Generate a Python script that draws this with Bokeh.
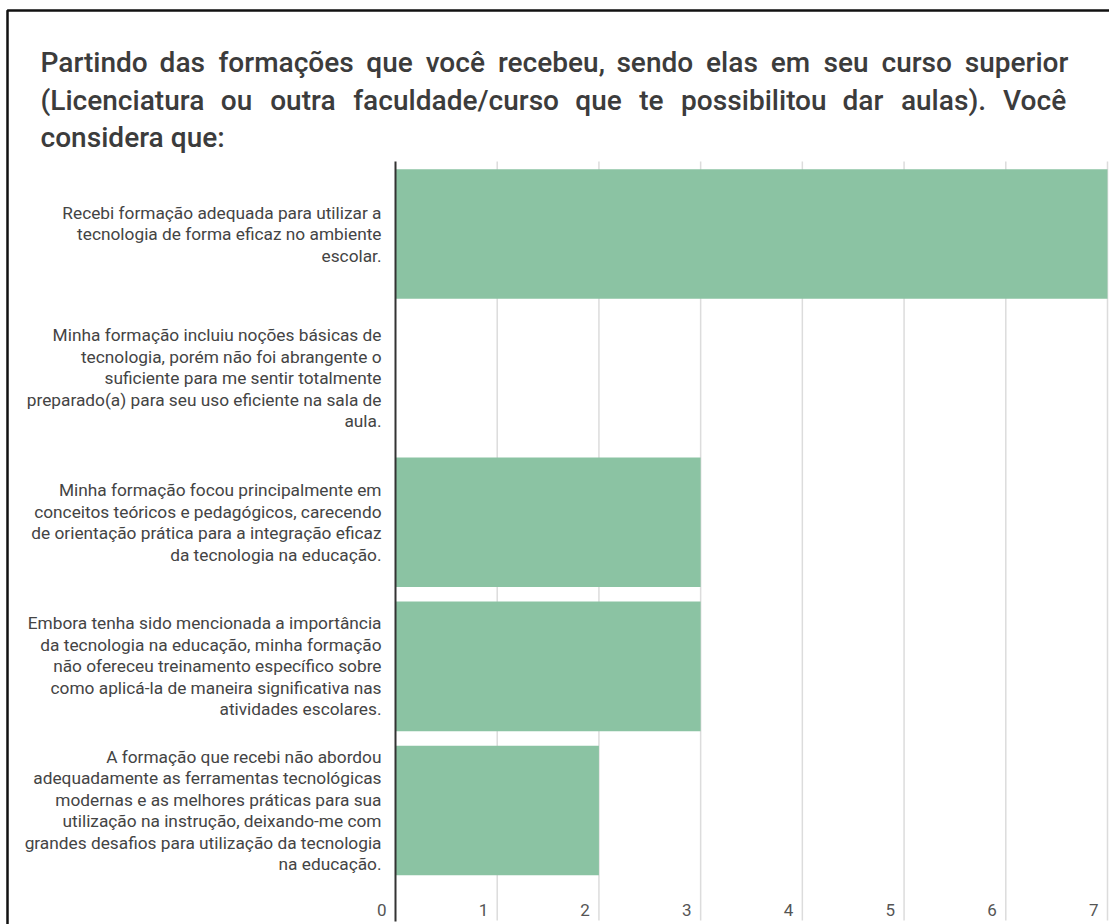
from bokeh.plotting import figure
from bokeh.models import ColumnDataSource, LabelSet, Label, Range1d, BoxAnnotation
from bokeh.embed import file_html
from bokeh.resources import INLINE
from bokeh.core.properties import value

# ---------------- data ----------------
categories = [
    "Recebi formação adequada para utilizar a\ntecnologia de forma eficaz no ambiente\nescolar.",
    "Minha formação incluiu noções básicas de\ntecnologia, porém não foi abrangente o\nsuficiente para me sentir totalmente\npreparado(a) para seu uso eficiente na sala de\naula.",
    "Minha formação focou principalmente em\nconceitos teóricos e pedagógicos, carecendo\nde orientação prática para a integração eficaz\nda tecnologia na educação.",
    "Embora tenha sido mencionada a importância\nda tecnologia na educação, minha formação\nnão ofereceu treinamento específico sobre\ncomo aplicá-la de maneira significativa nas\natividades escolares.",
    "A formação que recebi não abordou\nadequadamente as ferramentas tecnológicas\nmodernas e as melhores práticas para sua\nutilização na instrução, deixando-me com\ngrandes desafios para utilização da tecnologia\nna educação.",
]
counts = [7, 0, 3, 3, 2]
x_ticks = [0, 1, 2, 3, 4, 5, 6, 7]
tick_labels = ["0", "1", "2", "3", "4", "5", "6", "7"]
title_lines = [
    "Partindo das formações que você recebeu, sendo elas em seu curso superior",
    "(Licenciatura ou outra faculdade/curso que te possibilitou dar aulas). Você",
    "considera que:",
]

# ---------------- layout / style ----------------
FONT = "Roboto"
TITLE_FONT = "'Roboto Medium', Roboto"
W, H = 1109, 924
BAR_COLOR = "#8bc3a3"
TEXT_COLOR = "#444444"

# pixel <-> data mapping (frame fills the whole canvas)
X0_PX, X7_PX = 395.0, 1107.0          # pixel of value 0 and of value 7
UNIT = (X7_PX - X0_PX) / 7.0
TOP_C, BOT_C = 233.5, 810.0           # centre pixel of first and last category band
BAND = (BOT_C - TOP_C) / (len(categories) - 1)
def X(px):
    return (px - X0_PX) / UNIT
def Y(py):
    return (len(categories) - 1) - (py - TOP_C) / BAND

p = figure(
    width=W, height=H, output_backend="svg", toolbar_location=None,
    x_axis_location=None, y_axis_location=None,
    x_range=Range1d(X(0), X(W)), y_range=Range1d(Y(H), Y(0)),
    min_border=0, outline_line_color=None,
    background_fill_color="white", border_fill_color="white",
)
p.grid.visible = False
p.title.visible = False

n = len(categories)
ys = [n - 1 - i for i in range(n)]
src = ColumnDataSource(dict(y=ys, count=counts))

# vertical gridlines at the ticks
grid_x = x_ticks[1:]
p.segment(x0=grid_x, x1=grid_x, y0=[Y(920)] * len(grid_x), y1=[Y(161)] * len(grid_x),
          line_color="#dcdcdc", line_width=1.5)

# bars
p.hbar(y="y", left=0, right="count", height=0.9, source=src,
       fill_color=BAR_COLOR, line_color=None)

# value axis line at 0
p.segment(x0=[0], x1=[0], y0=[Y(921)], y1=[Y(161)], line_color="#333333", line_width=2)

# category labels, one right-aligned row per text line
LINE_H = 21.5
lab_y, lab_t = [], []
for yc, lab in zip(ys, categories):
    parts = lab.split("\n")
    k = len(parts)
    for j, part in enumerate(parts):
        lab_y.append(yc + ((k - 1) / 2 - j) * LINE_H / BAND)
        lab_t.append(part)
lab_src = ColumnDataSource(dict(y=lab_y, t=lab_t))
p.add_layout(LabelSet(x=0, y="y", text="t", source=lab_src, x_offset=-14,
                      text_align="right", text_baseline="middle",
                      text_font=value(FONT), text_font_size="17.3px",
                      text_color=TEXT_COLOR))

# tick labels
tick_src = ColumnDataSource(dict(x=x_ticks, y=[Y(909)] * len(x_ticks), t=tick_labels))
p.add_layout(LabelSet(x="x", y="y", text="t", source=tick_src, x_offset=-9,
                      text_align="right", text_baseline="middle",
                      text_font=value(FONT), text_font_size="17px", text_color="#555555"))

# outer frame (top and left edges of the card)
p.add_layout(BoxAnnotation(left=X(7), right=X(1300), top=Y(10), bottom=Y(1100),
                           fill_alpha=0, line_color="#111111", line_alpha=1.0, line_width=2.5))

# ---------------- justified title ----------------
EM = {' ': 0.248, 'a': 0.532, 'b': 0.548, 'c': 0.511, 'd': 0.550, 'e': 0.517, 'f': 0.338,
      'g': 0.548, 'h': 0.538, 'i': 0.237, 'l': 0.237, 'm': 0.856, 'n': 0.539, 'o': 0.557,
      'p': 0.548, 'q': 0.551, 'r': 0.331, 's': 0.503, 't': 0.319, 'u': 0.538, 'v': 0.473,
      'z': 0.484, 'ç': 0.511, 'õ': 0.557, 'ê': 0.517, 'P': 0.631, 'L': 0.538, 'V': 0.636,
      '(': 0.342, ')': 0.348, ',': 0.192, '.': 0.257, '/': 0.403, ':': 0.237}
TFS = 28.0
def wwidth(w):
    return sum(EM.get(ch, 0.53) for ch in w) * TFS * 1.02

T_LEFT, T_RIGHT = 40, 1066
baselines = [62, 100, 137]
for li, line in enumerate(title_lines):
    yb = Y(baselines[li])
    words = line.split(" ")
    if li < 2:
        widths = [wwidth(w) for w in words]
        gap = (T_RIGHT - T_LEFT - sum(widths)) / (len(words) - 1)
        x = T_LEFT
        for w, ww in zip(words, widths):
            p.add_layout(Label(x=X(x), y=yb, text=w,
                               text_font=TITLE_FONT, text_font_size=f"{TFS}px",
                               text_color="#3c3c3c", text_baseline="alphabetic", text_align="left"))
            x += ww + gap
    else:
        p.add_layout(Label(x=X(T_LEFT), y=yb, text=line,
                           text_font=TITLE_FONT, text_font_size=f"{TFS}px",
                           text_color="#3c3c3c", text_baseline="alphabetic", text_align="left"))

open("out.html", "w").write(file_html(p, INLINE))
